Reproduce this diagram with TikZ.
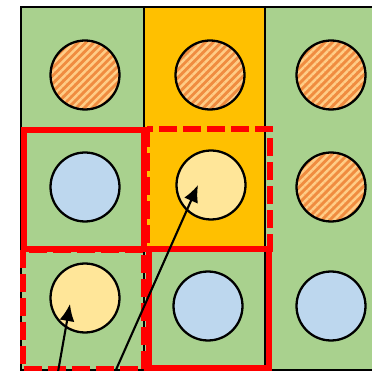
\documentclass[tikz,border=0pt]{standalone}
\usepackage{tikz}
\usetikzlibrary{arrows.meta}
\usetikzlibrary{patterns.meta}
\definecolor{leaf}{RGB}{169,209,142}
\definecolor{gold}{RGB}{255,192,0}
\definecolor{sky}{RGB}{189,215,238}
\definecolor{cream}{RGB}{255,230,153}
\definecolor{rust}{RGB}{240,140,64}
\definecolor{peach}{RGB}{255,205,135}

\begin{document}
\begin{tikzpicture}[x=0.02cm,y=-0.02cm,
     cell/.style={draw=black,line width=1.3pt},
     dot/.style={circle,draw=black,line width=1.3pt,minimum size=1.38cm,inner sep=0pt},
     hot/.style={dot,preaction={fill=rust},preaction={pattern={Lines[angle=45,distance=3.2pt,line width=1.4pt]},pattern color=peach}},
     box/.style={draw=red,line width=3.3pt},
     dbox/.style={box,dash pattern=on 0.36cm off 0.12cm},
     ray/.style={line width=1.2pt,-{Latex[length=3.4mm,width=3mm]}}]
     \useasboundingbox (0,0) rectangle (372,371);
     % cells
     \draw[cell,fill=leaf] (21,7) rectangle (144,370);
     \draw[cell] (21,128) -- (144,128);
     \draw[cell,fill=gold] (144,7) rectangle (265,248);
     \draw[cell,fill=leaf] (144,248) rectangle (265,370);
     \draw[cell,fill=leaf] (265,7) rectangle (385,370);
     % red frames
     \draw[box] (24,130) rectangle (144,249);
     \draw[dbox] (147,129) rectangle (270,249);
     \draw[box] (149,249) rectangle (269,368);
     \draw[dbox] (23,250) rectangle (144,369);
     % circles
     \node[hot] (a1) at (85,75) {};
     \node[hot] (a2) at (210,75) {};
     \node[hot] (a3) at (331,75) {};
     \node[dot,fill=sky] (b1) at (85,187) {};
     \node[dot,fill=cream] (b2) at (211,185) {};
     \node[hot] (b3) at (331,187) {};
     \node[dot,fill=cream] (c1) at (85,298) {};
     \node[dot,fill=sky] (c2) at (208,306) {};
     \node[dot,fill=sky] (c3) at (331,306) {};
     % arrows
     \coordinate (s1) at (58,372);
     \coordinate (s2) at (115,372);
     \draw[ray] (s1) -- ([shift={(-15,6)}]c1.center);
     \draw[ray] (s2) -- ([shift={(-13,0)}]b2.center);
\end{tikzpicture}
\end{document}
